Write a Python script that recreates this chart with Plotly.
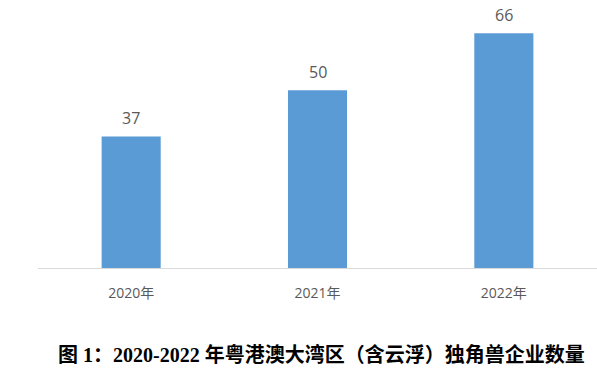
import plotly.graph_objects as go

categories = ["2020年", "2021年", "2022年"]
values = [37, 50, 66]
title_text = "图 1：2020-2022 年粤港澳大湾区（含云浮）独角兽企业数量"

bar_color = "#5b9bd5"
text_color = "#595959"

fig = go.Figure()
fig.add_trace(go.Bar(x=categories, y=values, marker=dict(color=bar_color, line=dict(width=0)),
                     hoverinfo="x+y"))

for c, v in zip(categories, values):
    fig.add_annotation(x=c, y=v, text=str(v), showarrow=False, yanchor="middle",
                       yshift=18, font=dict(family="Open Sans, Noto Sans CJK SC", size=16, color=text_color))

fig.add_annotation(xref="paper", yref="paper", x=0.5, y=0, yshift=-86, xshift=4,
                   text="<b>" + title_text + "</b>", showarrow=False, yanchor="middle",
                   font=dict(family="Liberation Serif, Noto Sans CJK SC", size=20, color="#000000"))

fig.update_layout(
    width=597, height=381,
    margin=dict(l=38, r=0, t=10, b=113),
    paper_bgcolor="white", plot_bgcolor="white",
    bargap=0.683,
    showlegend=False,
    xaxis=dict(showline=True, linecolor="#d9d9d9", linewidth=1, ticks="", showgrid=False,
               tickfont=dict(family="Open Sans, Noto Sans CJK SC", size=14, color=text_color),
               ticklabelstandoff=12),
    yaxis=dict(range=[0, 72.57], visible=False, showgrid=False, zeroline=False),
)

fig.write_html("out.html", config={"displayModeBar": False},
               post_script="document.body.style.margin='0';document.body.style.padding='0';")
